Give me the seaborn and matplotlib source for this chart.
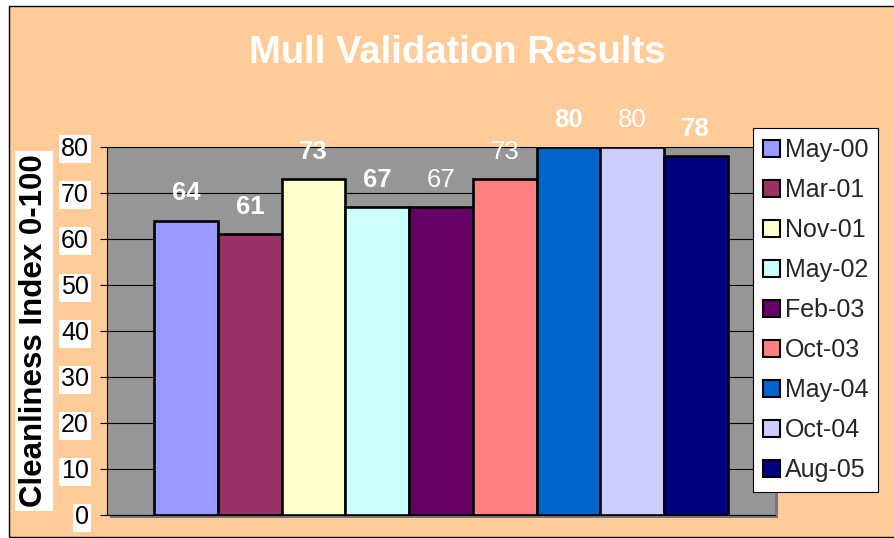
import matplotlib
matplotlib.use("Agg")
import matplotlib.pyplot as plt
from matplotlib.patches import Rectangle, Patch
import pandas as pd
import seaborn as sns

# ---- data -----------------------------------------------------------------
surveys = ["May-00", "Mar-01", "Nov-01", "May-02", "Feb-03",
           "Oct-03", "May-04", "Oct-04", "Aug-05"]
scores = [64, 61, 73, 67, 67, 73, 80, 80, 78]
site = ["Mull"] * len(surveys)

# classic Excel palette, one colour per survey
bar_colors = ["#9999FF", "#993366", "#FFFFCC", "#CCFFFF", "#660066",
              "#FF8080", "#0066CC", "#CCCCFF", "#000080"]
label_bold = [True, True, True, True, False, False, True, False, True]

df = pd.DataFrame({"site": site, "survey": surveys, "score": scores})

# ---- style ----------------------------------------------------------------
sns.set_theme(style="white")
plt.rcParams["font.family"] = ["Liberation Sans", "DejaVu Sans"]

W, H = 895, 538
fig = plt.figure(figsize=(W / 100, H / 100), dpi=100)
fig.patch.set_facecolor("white")

# peach chart area with black frame
fig.patches.append(Rectangle((9 / W, 1 - 537 / H), 1.0, 537 / H - 6 / H,
                             transform=fig.transFigure, facecolor="#FFCC99",
                             edgecolor="black", linewidth=1.0, zorder=-10))

ax_l, ax_r, ax_t, ax_b = 107, 775, 147, 515
# plot-area shadow
fig.patches.append(Rectangle(((ax_l + 3) / W, 1 - (ax_b + 3) / H),
                             (ax_r - ax_l) / W, (ax_b - ax_t) / H,
                             transform=fig.transFigure, facecolor="#777777",
                             edgecolor="none", zorder=-5))

ax = fig.add_axes([ax_l / W, 1 - ax_b / H, (ax_r - ax_l) / W, (ax_b - ax_t) / H])
ax.set_facecolor("#969696")

sns.barplot(data=df, x="site", y="score", hue="survey", hue_order=surveys,
            palette=bar_colors, saturation=1, width=0.858, gap=0,
            edgecolor="black", linewidth=1.9, legend=False, ax=ax)

ax.set_xlim(-0.5, 0.5)
ax.set_ylim(0, 80)
ax.set_yticks(range(0, 81, 10))
ax.set_xticks([])
ax.set_xlabel("")
ax.set_ylabel("")

ax.yaxis.grid(True, color="black", linewidth=0.8)
ax.set_axisbelow(True)
for side in ["top", "right"]:
    ax.spines[side].set_visible(False)
for side in ["left", "bottom"]:
    ax.spines[side].set_color("black")
    ax.spines[side].set_linewidth(0.8)

ax.tick_params(axis="y", left=True, length=5, width=0.8, color="black",
               pad=8, labelsize=18, labelcolor="black")
for lbl in ax.get_yticklabels():
    lbl.set_bbox(dict(facecolor="white", edgecolor="none", pad=1.5))

# value labels above bars
for container, bold in zip(ax.containers, label_bold):
    ax.bar_label(container, fmt="%d", padding=11, color="white", fontsize=18.5,
                 fontweight="bold" if bold else "normal")

# titles
fig.text(457.5 / W, 1 - 63 / H, "Mull Validation Results", color="white",
         fontsize=27.5, fontweight="bold", ha="center", va="baseline")
fig.text(34 / W, 1 - 331 / H, "Cleanliness Index 0-100", rotation=90,
         fontsize=22.5, fontweight="bold", color="black", ha="center",
         va="center", bbox=dict(facecolor="white", edgecolor="none", pad=3))

# legend
handles = [Patch(facecolor=c.patches[0].get_facecolor(), edgecolor="black",
                 linewidth=1.5) for c in ax.containers]
leg = ax.legend(handles, surveys, loc="upper left",
                bbox_to_anchor=(753 / W, 1 - 128 / H),
                bbox_transform=fig.transFigure, fontsize=18, frameon=True,
                fancybox=False, framealpha=1, edgecolor="black",
                handlelength=0.68, handleheight=0.68, handletextpad=0.2,
                labelspacing=0.64, borderpad=0.4, borderaxespad=0)
leg.get_frame().set_linewidth(0.8)
leg.get_frame().set_facecolor("white")

fig.savefig("out.png", dpi=100, facecolor=fig.get_facecolor())
